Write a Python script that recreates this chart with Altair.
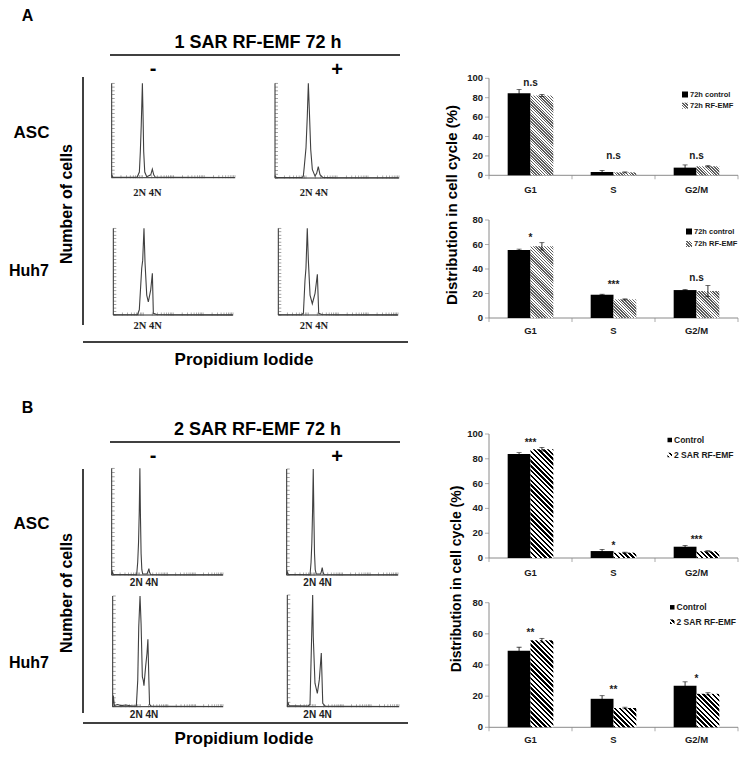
import math
import altair as alt
import pandas as pd

# ---------------- data: bar charts ----------------
phases = ["G1", "S", "G2/M"]

a1_ctrl = [84.5, 3.4, 7.9]
a1_ctrl_err = [4.0, 1.6, 2.8]
a1_emf = [82.3, 3.0, 9.3]
a1_emf_err = [1.0, 0.5, 0.6]
a1_sig = ["n.s", "n.s", "n.s"]
a1_sig_y = [95.5, 19.5, 19.5]

a2_ctrl = [55.5, 19.0, 22.8]
a2_ctrl_err = [0.8, 0.4, 0.5]
a2_emf = [58.5, 15.2, 22.0]
a2_emf_err = [3.0, 0.4, 4.5]
a2_sig = ["*", "***", "n.s"]
a2_sig_y = [67.8, 29.6, 32.7]

b1_ctrl = [83.9, 5.6, 9.1]
b1_ctrl_err = [1.0, 1.3, 1.0]
b1_emf = [87.7, 4.3, 5.4]
b1_emf_err = [1.5, 0.4, 0.5]
b1_sig = ["***", "*", "***"]
b1_sig_y = [95.2, 12.3, 17.2]

b2_ctrl = [49.2, 18.3, 26.6]
b2_ctrl_err = [2.2, 2.0, 2.6]
b2_emf = [55.9, 12.4, 21.5]
b2_emf_err = [1.2, 0.5, 0.7]
b2_sig = ["**", "**", "*"]
b2_sig_y = [62.3, 25.8, 33.1]

ticks_100 = [0, 20, 40, 60, 80, 100]
ticks_80 = [0, 20, 40, 60, 80]

legend_a = ["72h control", "72h RF-EMF"]
legend_b = ["Control", "2 SAR RF-EMF"]

# ---------------- data: DNA histograms (PI fluorescence, % of max count) ----------------
hA_asc_neg_fl = [1, 1.1, 6.0, 6.8, 7.9, 8.5, 9.1, 9.9, 10.4, 10.9, 11.8, 13.7, 18.5, 20.8, 23.1, 26.0, 90, 9800]
hA_asc_neg_ct = [3, 0.5, 0.3, 1, 6, 28, 56, 100, 66, 28, 6, 1, 3, 9, 3, 0.5, 0.3, 0.2]
hA_asc_pos_fl = [1, 1.1, 7.5, 8.2, 8.8, 10.0, 11.0, 11.9, 12.8, 14.2, 16.0, 19.5, 22.1, 24.9, 28.3, 34.6, 90, 9800]
hA_asc_pos_ct = [2.5, 0.5, 0.5, 2, 12, 32, 65, 100, 72, 30, 9, 2, 5, 12, 3.5, 0.7, 0.3, 0.2]
hA_huh_neg_fl = [1, 1.1, 6.4, 7.4, 8.9, 9.6, 10.6, 11.5, 13.1, 14.8, 17.8, 20.2, 21.8, 28.3, 90, 9800]
hA_huh_neg_ct = [1, 0.3, 0.3, 6, 54, 63, 100, 60, 23, 15, 29, 48, 2, 0.5, 0.3, 0.2]
hA_huh_pos_fl = [1, 1.1, 6.0, 6.9, 7.8, 8.4, 9.3, 10.1, 11.5, 13.7, 16.9, 20.2, 22.4, 28.3, 90, 9800]
hA_huh_pos_ct = [1, 0.3, 0.3, 2, 40, 54, 100, 63, 23, 13, 25, 47, 2, 0.5, 0.3, 0.2]

hB_asc_neg_fl = [1, 1.05, 1.15, 3, 7.9, 8.6, 9.2, 9.8, 10.3, 10.8, 11.4, 12.1, 13, 18.5, 20, 21.7, 23, 25, 90, 9800]
hB_asc_neg_ct = [0, 3, 0.5, 0.5, 0.3, 12, 30, 60, 100, 55, 20, 5, 1, 1, 3, 6, 2.5, 0.5, 0.3, 0.2]
hB_asc_pos_fl = [1, 1.05, 1.15, 3, 6.9, 7.5, 8.0, 8.5, 9.0, 9.5, 10.0, 10.6, 11.5, 16.5, 17.5, 18.9, 20.2, 22, 90, 9800]
hB_asc_pos_ct = [0, 3, 0.5, 0.5, 0.3, 12, 30, 60, 100, 55, 20, 5, 1, 1, 3, 7, 2.5, 0.5, 0.3, 0.2]
hB_huh_neg_fl = [1, 1.05, 1.15, 1.5, 2, 3, 5, 7.2, 8.1, 8.8, 9.8, 10.7, 11.9, 12.8, 13.6, 14.4, 15.6, 17.5, 18.9, 20.5, 21.7, 25, 90, 9800]
hB_huh_neg_ct = [0, 10, 1, 2, 1, 1.5, 0.5, 0.5, 24, 72, 100, 75, 27, 24, 19, 26, 36, 48, 61, 24, 2, 0.5, 0.3, 0.2]
hB_huh_pos_fl = [1, 1.05, 1.15, 2, 5.5, 6.5, 7.5, 8.1, 8.5, 9.8, 11.9, 14.0, 16.5, 18.6, 23, 90, 9800]
hB_huh_pos_ct = [0, 4, 1, 0.8, 0.5, 2, 66, 100, 63, 21, 12, 24, 48, 3, 0.5, 0.3, 0.2]

hist_yticks = list(range(0, 101, 4))
hist_xticks = [m * 10 ** k for k in range(4) for m in range(1, 10)] + [10000]

# ---------------- layout helpers ----------------
W, H = 731, 741
M = 8
SANS = "Liberation Sans"
SERIF = "Liberation Serif"


def P(v):
    return v - M


layers = []
ONE = pd.DataFrame({"k": [0]})


def text(s, x, y, size, weight="bold", angle=None, font=SANS, align="center", color="black"):
    kw = dict(text=s, fontSize=size, fontWeight=weight, font=font, align=align,
              baseline="middle", color=color)
    if angle is not None:
        kw["angle"] = angle
    layers.append(alt.Chart(ONE).mark_text(**kw).encode(x=alt.value(P(x)), y=alt.value(P(y))))


def line(x1, y1, x2, y2, width=1.5, color="black"):
    layers.append(alt.Chart(ONE).mark_rule(strokeWidth=width, color=color).encode(
        x=alt.value(P(x1)), y=alt.value(P(y1)), x2=alt.value(P(x2)), y2=alt.value(P(y2))))


def hatch(w, h, period, c_line, c_bg="white", frac=0.5):
    h = max(h, 0.5)
    r = h / w
    s = (1 + r) / (1 + r * r)
    length = (w + h) / math.sqrt(2)
    n = max(length / period, 1)
    stops = []
    k = 0
    while k / n < 1:
        t0 = k / n
        t1 = min((k + frac) / n, 1)
        t2 = min((k + 1) / n, 1)
        stops += [{"offset": round(t0, 5), "color": c_line}, {"offset": round(t1, 5), "color": c_line},
                  {"offset": round(t1, 5), "color": c_bg}, {"offset": round(t2, 5), "color": c_bg}]
        k += 1
    return {"gradient": "linear", "x1": 0, "y1": 1, "x2": round(s, 5), "y2": round(1 - s * r, 5),
            "stops": stops}


def histogram(fl, ct, x0, x1, yb, yt):
    xs = alt.Scale(type="log", domain=[1, 10000], range=[P(x0), P(x1)], nice=False)
    ys = alt.Scale(domain=[0, 100], range=[P(yb), P(yt)], nice=False, zero=False)
    X = lambda f: alt.X(f"{f}:Q", scale=xs, axis=None)
    Y = lambda f: alt.Y(f"{f}:Q", scale=ys, axis=None)
    ax = pd.DataFrame({"x": [1, 1], "x2": [1, 10000], "y": [0, 0], "y2": [100, 0]})
    layers.append(alt.Chart(ax).mark_rule(color="#2a2a2a", strokeWidth=1).encode(
        x=X("x"), x2="x2:Q", y=Y("y"), y2="y2:Q"))
    yt_df = pd.DataFrame({"x": [1] * len(hist_yticks), "y": hist_yticks})
    layers.append(alt.Chart(yt_df).mark_tick(orient="horizontal", size=3, thickness=0.7,
                                             color="#444", xOffset=1.5).encode(x=X("x"), y=Y("y")))
    xt_df = pd.DataFrame({"x": hist_xticks, "y": [0] * len(hist_xticks)})
    layers.append(alt.Chart(xt_df).mark_tick(orient="vertical", size=3, thickness=0.7,
                                             color="#555", yOffset=-1).encode(x=X("x"), y=Y("y")))
    df = pd.DataFrame({"fl": fl, "ct": ct})
    layers.append(alt.Chart(df).mark_line(color="#404040", strokeWidth=1.1).encode(
        x=X("fl"), y=Y("ct")))


BAR_W = 0.275
XL, XRt = 489, 738


def bar_chart(ctrl, ctrl_err, emf, emf_err, sig, sig_y, yticks, y0, ytop, hatch_period, hatch_color,
              font, tick_fs, cat_dy, legend, leg_x, leg_y1, leg_y2, leg_fs, sw):
    ymax = yticks[-1]
    xs = alt.Scale(domain=[0, 3], range=[P(XL), P(XRt)], nice=False, zero=False)
    ys = alt.Scale(domain=[0, ymax], range=[P(y0), P(ytop)], nice=False, zero=False)
    X = lambda f: alt.X(f"{f}:Q", scale=xs, axis=None)
    Y = lambda f: alt.Y(f"{f}:Q", scale=ys, axis=None)
    idx = list(range(len(phases)))
    axc = "#8a8a8a"
    # axes
    ax = pd.DataFrame({"x": [0, 0], "x2": [0, 3], "y": [0, 0], "y2": [ymax, 0]})
    layers.append(alt.Chart(ax).mark_rule(color=axc, strokeWidth=1).encode(
        x=X("x"), x2="x2:Q", y=Y("y"), y2="y2:Q"))
    yt_df = pd.DataFrame({"x": [0] * len(yticks), "y": yticks, "lab": [str(t) for t in yticks]})
    layers.append(alt.Chart(yt_df).mark_tick(orient="horizontal", size=4, thickness=1, color=axc,
                                             xOffset=-2).encode(x=X("x"), y=Y("y")))
    layers.append(alt.Chart(yt_df).mark_text(align="right", baseline="middle", dx=-6, fontSize=tick_fs,
                                             fontWeight="bold", font=font, color="#1a1a1a").encode(
        x=X("x"), y=Y("y"), text="lab:N"))
    xt_df = pd.DataFrame({"x": [0, 1, 2, 3], "y": [0] * 4})
    layers.append(alt.Chart(xt_df).mark_tick(orient="vertical", size=4, thickness=1, color=axc,
                                             yOffset=2).encode(x=X("x"), y=Y("y")))
    cat_df = pd.DataFrame({"x": [i + 0.5 for i in idx], "y": [0] * 3, "lab": phases})
    layers.append(alt.Chart(cat_df).mark_text(baseline="middle", dy=cat_dy, fontSize=tick_fs,
                                              fontWeight="bold", font=font, color="#1a1a1a").encode(
        x=X("x"), y=Y("y"), text="lab:N"))
    # control bars
    ctrl_df = pd.DataFrame({"x": [i + 0.5 - BAR_W for i in idx], "x2": [i + 0.5 for i in idx],
                            "v": ctrl, "z": [0] * 3})
    layers.append(alt.Chart(ctrl_df).mark_rect(color="black").encode(
        x=X("x"), x2="x2:Q", y=Y("v"), y2="z:Q"))
    # hatched bars
    px_per = (y0 - ytop) / ymax
    wpx = BAR_W * (XRt - XL) / 3
    for i, v in enumerate(emf):
        g = hatch(wpx, v * px_per, hatch_period, hatch_color)
        df = pd.DataFrame({"x": [i + 0.5], "x2": [i + 0.5 + BAR_W], "v": [v], "z": [0]})
        layers.append(alt.Chart(df).mark_rect(fill=g, strokeWidth=0).encode(
            x=X("x"), x2="x2:Q", y=Y("v"), y2="z:Q"))
    # error bars
    centers = [i + 0.5 - BAR_W / 2 for i in idx] + [i + 0.5 + BAR_W / 2 for i in idx]
    vals = list(ctrl) + list(emf)
    errs = list(ctrl_err) + list(emf_err)
    lo = [v - e for v, e in zip(vals, errs)]
    hi = [v + e for v, e in zip(vals, errs)]
    err_df = pd.DataFrame({"x": centers, "lo": lo, "hi": hi})
    layers.append(alt.Chart(err_df).mark_rule(color="black", strokeWidth=0.8).encode(
        x=X("x"), y=Y("lo"), y2="hi:Q"))
    cap_df = pd.DataFrame({"x": centers + centers, "y": lo + hi})
    layers.append(alt.Chart(cap_df).mark_tick(orient="horizontal", size=5, thickness=0.8,
                                              color="black").encode(x=X("x"), y=Y("y")))
    # significance
    star = [(i + 0.5, y, s) for i, (y, s) in enumerate(zip(sig_y, sig)) if "*" in s]
    other = [(i + 0.5, y, s) for i, (y, s) in enumerate(zip(sig_y, sig)) if "*" not in s]
    for rows, dy in ((star, 3), (other, 0)):
        if rows:
            sdf = pd.DataFrame(rows, columns=["x", "y", "lab"])
            layers.append(alt.Chart(sdf).mark_text(baseline="middle", dy=dy, fontSize=10,
                                                   fontWeight="bold", font=font, color="#1a1a1a").encode(
                x=X("x"), y=Y("y"), text="lab:N"))
    # legend
    layers.append(alt.Chart(ONE).mark_rect(color="black").encode(
        x=alt.value(P(leg_x)), x2=alt.value(P(leg_x + sw)),
        y=alt.value(P(leg_y1 - sw / 2)), y2=alt.value(P(leg_y1 + sw / 2))))
    layers.append(alt.Chart(ONE).mark_rect(fill=hatch(sw, sw, hatch_period, hatch_color),
                                           strokeWidth=0).encode(
        x=alt.value(P(leg_x)), x2=alt.value(P(leg_x + sw)),
        y=alt.value(P(leg_y2 - sw / 2)), y2=alt.value(P(leg_y2 + sw / 2))))
    text(legend[0], leg_x + sw + 2, leg_y1, leg_fs, font=font, align="left", color="#1a1a1a")
    text(legend[1], leg_x + sw + 2, leg_y2, leg_fs, font=font, align="left", color="#1a1a1a")


# ---------------- panel A ----------------
text("A", 27.5, 16, 16)
text("1 SAR RF-EMF 72 h", 258, 43, 18)
line(110, 55, 400, 55)
text("-", 153, 69, 20)
text("+", 337, 70, 20)
line(83, 77, 83, 325)
line(83, 342, 408, 342)
text("ASC", 31.5, 133, 17)
text("Huh7", 9, 271, 16, align="left")
text("Number of cells", 67, 204, 16, angle=270)
text("Propidium Iodide", 244, 360, 17)

histogram(hA_asc_neg_fl, hA_asc_neg_ct, 111.7, 235, 177.7, 83.3)
histogram(hA_asc_pos_fl, hA_asc_pos_ct, 275, 399, 178, 83.3)
histogram(hA_huh_neg_fl, hA_huh_neg_ct, 113.3, 233, 315, 228.3)
histogram(hA_huh_pos_fl, hA_huh_pos_ct, 278.3, 398, 315, 228.3)
for hx, hy in ((147.5, 193), (314, 193), (147.7, 326), (314, 326)):
    text("2N 4N", hx, hy, 10.5, font=SERIF, color="#222")

# ---------------- panel B ----------------
text("B", 27.5, 408, 16)
text("2 SAR RF-EMF 72 h", 257.5, 430, 18)
line(110, 442, 400, 442)
text("-", 153, 456, 20)
text("+", 337, 457, 20)
line(83, 469, 83, 713)
line(83, 723, 408, 723)
text("ASC", 31.5, 524, 17)
text("Huh7", 9, 663, 16, align="left")
text("Number of cells", 67, 593, 16, angle=270)
text("Propidium Iodide", 244, 739, 17)

histogram(hB_asc_neg_fl, hB_asc_neg_ct, 111.7, 223, 575, 468.3)
histogram(hB_asc_pos_fl, hB_asc_pos_ct, 286.7, 398, 575, 469)
histogram(hB_huh_neg_fl, hB_huh_neg_ct, 112.7, 223, 706.7, 596)
histogram(hB_huh_pos_fl, hB_huh_pos_ct, 287.3, 399, 706.7, 595)
for hx, hy in ((144, 583), (317.5, 583), (144, 715), (317.5, 715)):
    text("2N 4N", hx, hy, 10, color="#222")

# ---------------- bar charts ----------------
text("Distribution in cell cycle (%)", 452, 205, 15, angle=270)
text("Distribution in cell cycle (%)", 457, 579, 14, angle=270)

bar_chart(a1_ctrl, a1_ctrl_err, a1_emf, a1_emf_err, a1_sig, a1_sig_y, ticks_100, 175.3, 78.3,
          2.0, "#5e5e5e", SANS, 9.5, 15, legend_a, 682, 94.5, 105.7, 7.5, 6)
bar_chart(a2_ctrl, a2_ctrl_err, a2_emf, a2_emf_err, a2_sig, a2_sig_y, ticks_80, 318, 220,
          2.0, "#5e5e5e", SANS, 9.5, 13, legend_a, 686, 231.5, 244, 7.5, 6)
bar_chart(b1_ctrl, b1_ctrl_err, b1_emf, b1_emf_err, b1_sig, b1_sig_y, ticks_100, 558, 434,
          3.4, "black", SANS, 9.5, 15, legend_b, 667.5, 440, 455, 8.5, 4.5)
bar_chart(b2_ctrl, b2_ctrl_err, b2_emf, b2_emf_err, b2_sig, b2_sig_y, ticks_80, 727.3, 602.7,
          3.4, "black", SANS, 9.5, 13, legend_b, 670, 607.3, 621.7, 8.5, 4.5)

chart = alt.layer(*layers).properties(
    width=W, height=H, autosize=alt.AutoSizeParams(type="none"), padding=0
).resolve_scale(x="independent", y="independent").configure_view(stroke=None)

chart.save("out.html", embed_options={"renderer": "svg", "actions": False})
